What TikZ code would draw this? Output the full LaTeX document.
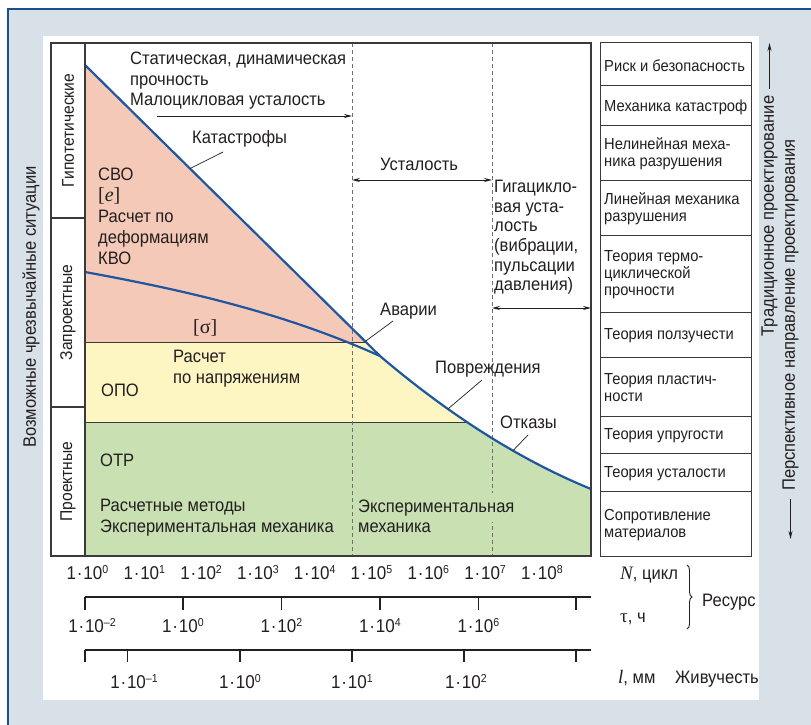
\documentclass[tikz,border=0pt]{standalone}
\usepackage{fontspec}
\setmainfont{Liberation Sans}[FakeStretch=0.92]
\newfontfamily\serifit{Liberation Serif}
\usetikzlibrary{arrows.meta,decorations.pathreplacing,calc}
\definecolor{bgblue}{HTML}{D8E0E8}
\definecolor{bordblue}{HTML}{1B4F8E}
\definecolor{pinkf}{HTML}{F4C9B7}
\definecolor{yelf}{HTML}{FDF6C3}
\definecolor{grnf}{HTML}{C9E0B2}
\definecolor{curveblue}{HTML}{1E56A0}
\definecolor{ink}{HTML}{231F20}
\definecolor{framec}{HTML}{3A3A3A}
\definecolor{dashc}{HTML}{707070}
\newcommand{\sups}[1]{\raisebox{6pt}{\fontsize{11.5}{11.5}\selectfont #1}}
\newcommand{\ten}[1]{1\kern0.8pt·\kern0.8pt10\sups{#1}}
\tikzset{
 lbl/.style={font=\fontsize{18}{21}\selectfont, inner sep=0pt, anchor=base west, text=ink},
 celltxt/.style={font=\fontsize{16}{17}\selectfont, inner sep=0pt, anchor=west, align=left, text=ink},
 axlbl/.style={font=\fontsize{18.5}{21}\selectfont, inner sep=0pt, anchor=base, text=ink},
 axname/.style={font=\fontsize{18}{21}\selectfont, inner sep=0pt, anchor=base west, text=ink},
 rottxt/.style={font=\fontsize{18}{21}\selectfont, inner sep=0pt, rotate=90, text=ink},
 coltxt/.style={font=\fontsize{17}{20}\selectfont, inner sep=0pt, rotate=90, text=ink},
 blueline/.style={draw=curveblue, line width=2.2pt},
 leader/.style={draw=ink, line width=0.7pt},
 dashv/.style={draw=dashc, line width=0.9pt, dash pattern=on 4pt off 3pt},
 arr/.style={draw=ink, line width=0.9pt, -{Stealth[length=8pt,width=4pt]}},
 darr/.style={draw=ink, line width=0.9pt, {Stealth[length=8pt,width=4pt]}-{Stealth[length=8pt,width=4pt]}},
 framel/.style={draw=framec, line width=1.3pt},
 cellline/.style={draw=framec, line width=1pt},
 bandline/.style={draw=framec, line width=0.9pt},
 axline/.style={draw=ink, line width=1.3pt},
}
\begin{document}
\begin{tikzpicture}[x=1pt,y=-1pt]
\useasboundingbox (0,0) rectangle (811,725);
\fill[white] (0,0) rectangle (811,725);
\fill[bgblue] (8,9) rectangle (811,725);
\draw[bordblue, line width=2.5pt] (8,725) -- (8,9) -- (811,9);
\fill[white] (43,36) rectangle (759,700);

% key coordinates
\coordinate (L0) at (85,65);
\coordinate (LK) at (380,356);
\coordinate (LE) at (591,489);
\coordinate (S0) at (85,272);

% coloured bands under the envelope
\begin{scope}
\clip (L0) -- (LK) .. controls (450.3,415.8) and (520.7,460.2) .. (LE) -- (591,556) -- (85,556) -- cycle;
\fill[pinkf] (85,43) rectangle (591,342);
\fill[yelf] (85,342) rectangle (591,422);
\fill[grnf] (85,422) rectangle (591,556);
\draw[bandline] (85,342) -- (591,342);
\draw[bandline] (85,422) -- (591,422);
\end{scope}

% dashed verticals
\draw[dashv] (352,43) -- (352,556);
\draw[dashv] (492,43) -- (492,556);

% blue curves
\draw[blueline] (L0) -- (LK) .. controls (450.3,415.8) and (520.7,460.2) .. (LE);
\draw[blueline] (S0) .. controls (183,290) and (282,312) .. (LK);
\path (LK) .. controls (450.3,415.8) and (520.7,460.2) .. (LE)
  coordinate[pos=0.322] (Pdmg) coordinate[pos=0.63] (Pfail);
\coordinate (Pcat) at ($(L0)!0.356!(LK)$);
\coordinate (Pav) at ($(L0)!0.95!(LK)$);

% frame and left column
\draw[framel] (51,43) rectangle (591,556);
\draw[framel] (85,43) -- (85,556);
\draw[framel] (51,218) -- (85,218);
\draw[framel] (51,407) -- (85,407);
\node[coltxt] (gip) at (68,130.5) {Гипотетические};
\node[coltxt] (zapr) at (68,312.5) {Запроектные};
\node[coltxt] (proj) at (68,481.5) {Проектные};
\node[rottxt] (vozm) at (31,307) {Возможные чрезвычайные ситуации};

% top texts
\node[lbl] (t1) at (130,64.5) {Статическая, динамическая};
\node[lbl] (t2) at (130,85) {прочность};
\node[lbl] (t3) at (130,105.5) {Малоцикловая усталость};
\coordinate (a1s) at (157,116);
\coordinate (a1e) at (352,116);
\draw[arr] (a1s) -- (a1e);

\node[lbl] (kat) at (192,143) {Катастрофы};
\coordinate (katL) at (223,152);
\draw[leader] (katL) -- (Pcat);

\node[lbl] (ust) at (380,170) {Усталость};
\coordinate (u1) at (352,180);
\coordinate (u2) at (492,180);
\draw[darr] (u1) -- (u2);

\node[lbl] (g1) at (494,192) {Гигацикло-};
\node[lbl] (g2) at (494,212) {вая уста-};
\node[lbl] (g3) at (494,231.5) {лость};
\node[lbl] (g4) at (494,251) {(вибрации,};
\node[lbl] (g5) at (494,271) {пульсации};
\node[lbl] (g6) at (494,290.5) {давления)};
\coordinate (gg1) at (492,308);
\coordinate (gg2) at (591,308);
\draw[darr] (gg1) -- (gg2);

% pink zone texts
\node[lbl] (svo) at (98,180.5) {СВО};
\node[lbl] (eps) at (98,201.5) {{\fontsize{20}{21}\selectfont\serifit[\textit{e}]}};
\node[lbl] (rpd) at (98,222.5) {Расчет по};
\node[lbl] (def) at (98,243) {деформациям};
\node[lbl] (kvo) at (98,264.5) {КВО};
\node[lbl] (sig) at (193,333) {{\fontsize{20}{21}\selectfont\serifit[σ]}};

\node[lbl] (avar) at (380,315) {Аварии};
\coordinate (avL) at (393,321);
\draw[leader] (avL) -- (Pav);

% yellow zone
\node[lbl] (ras) at (173,362.5) {Расчет};
\node[lbl] (pon) at (173,383.5) {по напряжениям};
\node[lbl] (opo) at (101,396) {ОПО};

\node[lbl] (povr) at (435,373) {Повреждения};
\coordinate (povL) at (482,380);
\draw[leader] (povL) -- (Pdmg);

\node[lbl] (otk) at (500,428) {Отказы};
\coordinate (otkL) at (528,435);
\draw[leader] (otkL) -- (Pfail);

% green zone
\node[lbl] (otr) at (100,466.5) {ОТР};
\node[lbl] (rm) at (100,511) {Расчетные методы};
\node[lbl] (em) at (100,532) {Экспериментальная механика};
\node[lbl, fill=grnf, inner ysep=6pt] (ex1) at (358,512) {Экспериментальная};
\node[lbl] (ex2) at (358,532) {механика};

% right column
\draw[cellline] (600,43) rectangle (751,556);
\foreach \yy in {85,125,180,235,312,357,416,453,491}
  \draw[cellline] (600,\yy) -- (751,\yy);
\node[celltxt] (c1) at (604,66) {Риск и безопасность};
\node[celltxt] (c2) at (604,107) {Механика катастроф};
\node[celltxt] (c3) at (604,154) {Нелинейная меха-\\ника разрушения};
\node[celltxt] (c4) at (604,209) {Линейная механика\\разрушения};
\node[celltxt] (c5) at (604,275) {Теория термо-\\циклической\\прочности};
\node[celltxt] (c6) at (604,336) {Теория ползучести};
\node[celltxt] (c7) at (604,388) {Теория пластич-\\ности};
\node[celltxt] (c8) at (604,436) {Теория упругости};
\node[celltxt] (c9) at (604,473.5) {Теория усталости};
\node[celltxt] (c10) at (604,525) {Сопротивление\\материалов};

% right rotated texts
\node[rottxt] (trad) at (769.5,216) {Традиционное проектирование};
\coordinate (tradtip) at (769.5,43);
\draw[arr] ($(trad.east)+(0,-7)$) -- (tradtip);
\node[rottxt] (persp) at (790.5,315) {Перспективное направление проектирования};
\coordinate (persptip) at (790.5,539);
\draw[arr] ($(persp.west)+(0,8)$) -- (persptip);

% axis N
\foreach \k in {0,...,8}
  \node[axlbl] (n\k) at ({87.5+56.8*\k},579) {\ten{\k}};
\node[axname] (nname) at (620,579) {{\fontsize{19}{21}\selectfont\serifit\itshape N}, цикл};

% axis tau
\draw[axline] (85,597) -- (591,597);
\foreach \xx in {85,183,281.5,380,478.5,576}
  \draw[axline] (\xx,597) -- (\xx,610);
\node[axlbl] (tm2) at (92,632) {\ten{–2}};
\node[axlbl] (t0) at (183,632) {\ten{0}};
\node[axlbl] (t2l) at (281.5,632) {\ten{2}};
\node[axlbl] (t4) at (380,632) {\ten{4}};
\node[axlbl] (t6) at (478.5,632) {\ten{6}};
\node[axname] (tname) at (620,622) {{\fontsize{19}{21}\selectfont\serifit τ}, ч};

% brace
\coordinate (br1) at (687,565);
\coordinate (br2) at (687,629);
\draw[ink, line width=0.9pt, decorate, decoration={brace, amplitude=5pt}] (br1) -- (br2);
\node[axname] (resurs) at (702,606) {Ресурс};

% axis l
\draw[axline] (85,650) -- (591,650);
\foreach \xx in {85,127.5,240,352,464,576}
  \draw[axline] (\xx,650) -- (\xx,662);
\node[axlbl] (lm1) at (134,688) {\ten{–1}};
\node[axlbl] (l0) at (240,688) {\ten{0}};
\node[axlbl] (l1) at (352,688) {\ten{1}};
\node[axlbl] (l2) at (466,688) {\ten{2}};
\node[axname] (lname) at (618,683) {{\fontsize{19}{21}\selectfont\serifit\itshape l}, мм};
\node[axname] (zhiv) at (675,683) {Живучесть};
\end{tikzpicture}
\end{document}
